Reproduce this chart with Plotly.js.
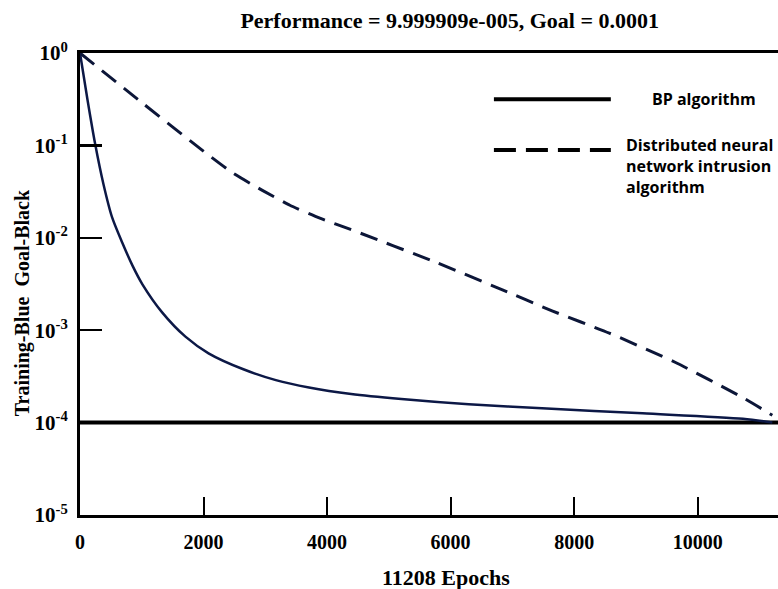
<!DOCTYPE html>
<html>
<head>
<meta charset="utf-8">
<script src="https://cdn.plot.ly/plotly-3.0.1.min.js"></script>
<style>html,body{margin:0;padding:0;background:#fff;overflow:hidden}</style>
</head>
<body>
<div id="chart" style="width:778px;height:589px"></div>
<script>
// Data
const bpEpochs = [0, 120, 244, 380, 520, 683, 850, 1008, 1333, 1707, 2081, 2634, 3171, 3707, 4390, 5203, 6293, 7480, 9106, 10732, 11208];
const bpPerf = [1, 0.316, 0.1047, 0.038, 0.0166, 0.0089, 0.005, 0.00316, 0.00155, 0.000851, 0.000562, 0.00038, 0.000288, 0.00024, 0.000204, 0.00018, 0.000158, 0.000143, 0.000126, 0.00011, 0.0001];

const dnEpochs = [0, 1008, 2033, 2476, 2945, 3398, 3883, 4369, 5740, 6829, 7642, 8569, 9642, 10732, 11208];
const dnPerf = [1, 0.288, 0.0832, 0.0501, 0.0328, 0.0225, 0.0163, 0.0124, 0.0055, 0.00275, 0.00162, 0.00093, 0.000447, 0.000186, 0.00012];

const goalEpochs = [0, 11300];
const goalPerf = [0.0001, 0.0001];

const xTickVals = [0, 2000, 4000, 6000, 8000, 10000];
const yTickVals = [1, 0.1, 0.01, 0.001, 0.0001, 0.00001];
const yTickText = ['10<sup>0</sup>', '10<sup>-1</sup>', '10<sup>-2</sup>', '10<sup>-3</sup>', '10<sup>-4</sup>', '10<sup>-5</sup>'];

const titleText = 'Performance = 9.999909e-005, Goal = 0.0001';
const xTitle = '11208 Epochs';
const yTitle = 'Training-Blue  Goal-Black';
const legendNames = ['BP algorithm', 'Distributed neural<br>network intrusion<br>algorithm'];

const serif = '"Liberation Serif", "Times New Roman", serif';
const sans = '"Open Sans", "Noto Sans", sans-serif';

const traces = [
  {x: goalEpochs, y: goalPerf, mode: 'lines', line: {color: '#000000', width: 4}, hoverinfo: 'skip'},
  {x: bpEpochs, y: bpPerf, mode: 'lines', line: {color: '#0c1846', width: 2.5, shape: 'spline', smoothing: 0.8}},
  {x: dnEpochs, y: dnPerf, mode: 'lines', line: {color: '#0c1638', width: 3, dash: '18px,10px', shape: 'spline', smoothing: 0.5}}
];

const layout = {
  width: 778, height: 589,
  margin: {l: 80, r: 0, t: 53, b: 74},
  paper_bgcolor: '#fff', plot_bgcolor: '#fff',
  showlegend: false,
  xaxis: {
    range: [0, 11300], tickvals: xTickVals, ticktext: xTickVals.map(String),
    ticks: 'inside', ticklen: 18, tickwidth: 2, tickcolor: '#000',
    showline: true, linecolor: '#000', linewidth: 3, mirror: true,
    showgrid: false, zeroline: false, ticklabelstandoff: 7,
    tickfont: {family: serif, size: 20, color: '#000', weight: 'bold'}
  },
  yaxis: {
    type: 'log', range: [-5, 0], tickvals: yTickVals, ticktext: yTickText,
    ticks: 'inside', ticklen: 22, tickwidth: 2.5, tickcolor: '#000',
    showline: true, linecolor: '#000', linewidth: 3, mirror: false,
    showgrid: false, zeroline: false, ticklabelstandoff: 5,
    tickfont: {family: serif, size: 21, color: '#000', weight: 'bold'}
  },
  title: {text: titleText, x: 0.578, xanchor: 'center', y: 0.966, yanchor: 'middle',
          font: {family: serif, size: 22, color: '#000', weight: 'bold'}},
  annotations: [
    {text: xTitle, xref: 'paper', yref: 'paper', x: 0.524, y: -0.135, xanchor: 'center', yanchor: 'middle',
     showarrow: false, font: {family: serif, size: 22, color: '#000', weight: 'bold'}},
    {text: yTitle, xref: 'paper', yref: 'paper', x: -0.082, y: 0.46, xanchor: 'center', yanchor: 'middle',
     textangle: -90, showarrow: false, font: {family: serif, size: 20, color: '#000', weight: 'bold'}},
    {text: legendNames[0], xref: 'paper', yref: 'paper', x: 0.8165, y: 0.9, xanchor: 'left', yanchor: 'middle',
     showarrow: false, font: {family: sans, size: 16, color: '#000', weight: 'bold'}},
    {text: legendNames[1], xref: 'paper', yref: 'paper', x: 0.779, y: 0.828, xanchor: 'left', yanchor: 'top',
     align: 'left', showarrow: false, font: {family: sans, size: 16, color: '#000', weight: 'bold'}}
  ],
  shapes: [
    {type: 'line', xref: 'paper', yref: 'paper', x0: 0.593, x1: 0.7605, y0: 0.9, y1: 0.9,
     line: {color: '#000', width: 4}},
    {type: 'line', xref: 'paper', yref: 'paper', x0: 0.593, x1: 0.7605, y0: 0.79, y1: 0.79,
     line: {color: '#000', width: 4, dash: '22px,10px'}}
  ]
};

Plotly.newPlot('chart', traces, layout, {displayModeBar: false, staticPlot: true});
</script>
</body>
</html>
